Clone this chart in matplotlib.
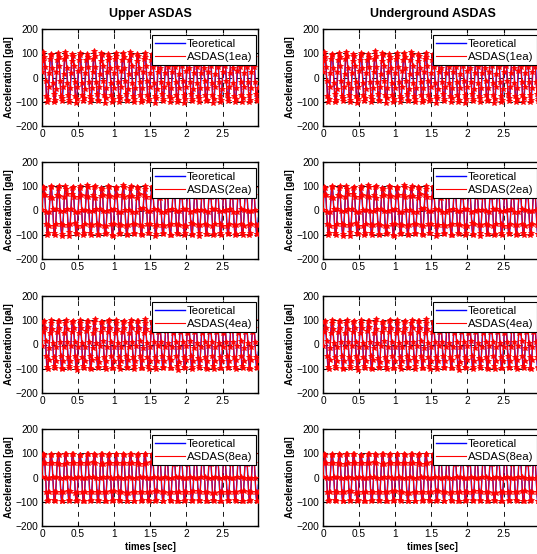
import numpy as np
import matplotlib
matplotlib.use("Agg")
import matplotlib.pyplot as plt

plt.rcParams['font.family'] = ['Liberation Sans', 'DejaVu Sans']

# theoretical input motion [gal], one value every 0.005 s
dt_theory = 0.005
theory = [
    0, 31, 59, 81, 95, 100, 95, 81, 59, 31, 0, -31, -59, -81, -95, -100, -95, -81, -59, -31,
    0, 31, 59, 81, 95, 100, 95, 81, 59, 31, 0, -31, -59, -81, -95, -100, -95, -81, -59, -31,
    0, 31, 59, 81, 95, 100, 95, 81, 59, 31, 0, -31, -59, -81, -95, -100, -95, -81, -59, -31,
    0, 31, 59, 81, 95, 100, 95, 81, 59, 31, 0, -31, -59, -81, -95, -100, -95, -81, -59, -31,
    0, 31, 59, 81, 95, 100, 95, 81, 59, 31, 0, -31, -59, -81, -95, -100, -95, -81, -59, -31,
    0, 31, 59, 81, 95, 100, 95, 81, 59, 31, 0, -31, -59, -81, -95, -100, -95, -81, -59, -31,
    0, 31, 59, 81, 95, 100, 95, 81, 59, 31, 0, -31, -59, -81, -95, -100, -95, -81, -59, -31,
    0, 31, 59, 81, 95, 100, 95, 81, 59, 31, 0, -31, -59, -81, -95, -100, -95, -81, -59, -31,
    0, 31, 59, 81, 95, 100, 95, 81, 59, 31, 0, -31, -59, -81, -95, -100, -95, -81, -59, -31,
    0, 31, 59, 81, 95, 100, 95, 81, 59, 31, 0, -31, -59, -81, -95, -100, -95, -81, -59, -31,
    0, 31, 59, 81, 95, 100, 95, 81, 59, 31, 0, -31, -59, -81, -95, -100, -95, -81, -59, -31,
    0, 31, 59, 81, 95, 100, 95, 81, 59, 31, 0, -31, -59, -81, -95, -100, -95, -81, -59, -31,
    0, 31, 59, 81, 95, 100, 95, 81, 59, 31, 0, -31, -59, -81, -95, -100, -95, -81, -59, -31,
    0, 31, 59, 81, 95, 100, 95, 81, 59, 31, 0, -31, -59, -81, -95, -100, -95, -81, -59, -31,
    0, 31, 59, 81, 95, 100, 95, 81, 59, 31, 0, -31, -59, -81, -95, -100, -95, -81, -59, -31,
    0, 31, 59, 81, 95, 100, 95, 81, 59, 31, 0, -31, -59, -81, -95, -100, -95, -81, -59, -31,
    0, 31, 59, 81, 95, 100, 95, 81, 59, 31, 0, -31, -59, -81, -95, -100, -95, -81, -59, -31,
    0, 31, 59, 81, 95, 100, 95, 81, 59, 31, 0, -31, -59, -81, -95, -100, -95, -81, -59, -31,
    0, 31, 59, 81, 95, 100, 95, 81, 59, 31, 0, -31, -59, -81, -95, -100, -95, -81, -59, -31,
    0, 31, 59, 81, 95, 100, 95, 81, 59, 31, 0, -31, -59, -81, -95, -100, -95, -81, -59, -31,
    0, 31, 59, 81, 95, 100, 95, 81, 59, 31, 0, -31, -59, -81, -95, -100, -95, -81, -59, -31,
    0, 31, 59, 81, 95, 100, 95, 81, 59, 31, 0, -31, -59, -81, -95, -100, -95, -81, -59, -31,
    0, 31, 59, 81, 95, 100, 95, 81, 59, 31, 0, -31, -59, -81, -95, -100, -95, -81, -59, -31,
    0, 31, 59, 81, 95, 100, 95, 81, 59, 31, 0, -31, -59, -81, -95, -100, -95, -81, -59, -31,
    0, 31, 59, 81, 95, 100, 95, 81, 59, 31, 0, -31, -59, -81, -95, -100, -95, -81, -59, -31,
    0, 31, 59, 81, 95, 100, 95, 81, 59, 31, 0, -31, -59, -81, -95, -100, -95, -81, -59, -31,
    0, 31, 59, 81, 95, 100, 95, 81, 59, 31, 0, -31, -59, -81, -95, -100, -95, -81, -59, -31,
    0, 31, 59, 81, 95, 100, 95, 81, 59, 31, 0, -31, -59, -81, -95, -100, -95, -81, -59, -31,
    0, 31, 59, 81, 95, 100, 95, 81, 59, 31, 0, -31, -59, -81, -95, -100, -95, -81, -59, -31,
    0, 31, 59, 81, 95, 100, 95, 81, 59, 31, 0, -31, -59, -81, -95, -100, -95, -81, -59, -31,
]

# measured by ASDAS [gal], one sample every 0.01 s
dt_asdas = 0.01
asdas_1ea = [
    22, 70, 104, 86, 45, -16, -76, -101, -87, -40,
    17, 75, 97, 92, 40, -22, -70, -103, -91, -46,
    24, 71, 101, 85, 47, -15, -77, -96, -86, -39,
    15, 77, 106, 90, 41, -21, -72, -100, -93, -44,
    20, 69, 98, 87, 46, -18, -75, -104, -88, -41,
    26, 74, 102, 91, 38, -24, -71, -98, -85, -47,
    18, 72, 96, 84, 44, -17, -78, -102, -90, -42,
    21, 76, 108, 88, 42, -20, -69, -97, -92, -38,
    16, 70, 100, 93, 48, -14, -74, -105, -86, -45,
    23, 73, 97, 86, 39, -23, -72, -99, -89, -43,
    19, 78, 103, 90, 45, -19, -76, -101, -84, -40,
    25, 71, 99, 85, 41, -16, -70, -96, -91, -48,
    14, 74, 105, 92, 47, -22, -77, -103, -87, -42,
    20, 69, 98, 88, 40, -18, -73, -100, -93, -44,
    22, 75, 101, 84, 46, -15, -71, -98, -88, -39,
    17, 72, 96, 91, 43, -21, -75, -107, -85, -46,
    24, 77, 104, 87, 38, -17, -69, -97, -90, -41,
    18, 70, 100, 89, 44, -24, -78, -102, -86, -45,
    21, 73, 97, 93, 42, -20, -72, -99, -92, -43,
    15, 76, 109, 86, 47, -14, -74, -104, -89, -38,
    26, 71, 99, 90, 41, -19, -70, -96, -87, -47,
    19, 74, 102, 85, 45, -23, -76, -101, -84, -42,
    20, 69, 98, 92, 39, -16, -73, -98, -91, -44,
    23, 78, 103, 88, 46, -21, -71, -105, -88, -40,
    16, 72, 96, 84, 43, -18, -77, -100, -93, -46,
    22, 75, 106, 91, 48, -15, -69, -97, -86, -41,
    18, 70, 100, 87, 40, -22, -75, -103, -90, -45,
    25, 73, 97, 89, 44, -17, -72, -99, -85, -39,
    17, 77, 101, 93, 42, -20, -74, -102, -92, -43,
    21, 71, 99, 86, 45, -19, -70, -98, -89, -44,
]
asdas_2ea = [
    4, 62, 98, 91, 64, -5, -55, -101, -93, -62,
    -6, 55, 103, 96, 53, 7, -64, -92, -99, -54,
    8, 63, 92, 100, 61, -3, -57, -97, -104, -60,
    -2, 57, 99, 89, 66, 5, -61, -106, -90, -57,
    5, 66, 94, 97, 55, -8, -53, -94, -97, -65,
    -7, 54, 101, 93, 62, 2, -63, -99, -92, -55,
    3, 60, 107, 95, 57, -4, -58, -93, -101, -61,
    -4, 64, 96, 102, 52, 6, -56, -103, -96, -58,
    7, 58, 93, 90, 63, -2, -62, -96, -94, -63,
    -3, 61, 100, 98, 58, 4, -54, -100, -105, -56,
    6, 56, 97, 92, 65, -6, -60, -95, -91, -59,
    -5, 65, 104, 96, 54, 3, -65, -102, -98, -61,
    2, 59, 91, 99, 60, -7, -57, -94, -95, -54,
    -8, 53, 98, 94, 67, 8, -59, -98, -100, -64,
    9, 62, 102, 88, 56, -1, -55, -92, -93, -57,
    -1, 57, 95, 101, 61, 5, -63, -107, -97, -60,
    4, 64, 99, 93, 53, -5, -58, -96, -92, -62,
    -6, 55, 94, 97, 64, 2, -61, -99, -103, -55,
    5, 60, 106, 91, 59, -3, -56, -93, -96, -58,
    -2, 63, 97, 100, 55, 7, -64, -101, -94, -63,
    7, 58, 92, 95, 62, -6, -53, -97, -99, -56,
    -4, 61, 101, 89, 57, 4, -60, -104, -91, -61,
    3, 56, 96, 98, 66, -2, -57, -95, -98, -59,
    -7, 66, 103, 94, 54, 6, -62, -100, -95, -54,
    6, 59, 93, 96, 60, -4, -55, -94, -102, -64,
    -3, 54, 99, 92, 63, 3, -63, -98, -93, -57,
    8, 62, 105, 99, 56, -8, -59, -103, -97, -60,
    -5, 57, 95, 90, 61, 5, -54, -92, -100, -62,
    2, 64, 98, 97, 58, -1, -61, -99, -94, -55,
    -1, 60, 94, 93, 62, 1, -58, -96, -96, -58,
]
asdas_4ea = [
    -7, 53, 94, 96, 70, 13, -47, -94, -101, -64,
    -13, 47, 88, 101, 64, 7, -53, -89, -95, -70,
    -9, 52, 96, 97, 69, 11, -49, -96, -100, -66,
    -12, 48, 90, 103, 65, 9, -52, -90, -97, -68,
    -8, 51, 93, 95, 68, 12, -48, -93, -104, -65,
    -11, 49, 89, 100, 66, 8, -51, -88, -96, -69,
    -10, 54, 97, 98, 71, 10, -46, -95, -99, -63,
    -14, 46, 91, 105, 63, 6, -54, -92, -98, -71,
    -6, 50, 92, 94, 67, 14, -50, -91, -102, -67,
    -10, 52, 95, 99, 69, 10, -49, -97, -95, -66,
    -12, 47, 87, 102, 65, 8, -53, -89, -100, -68,
    -9, 53, 94, 96, 70, 11, -47, -93, -97, -64,
    -11, 49, 90, 101, 66, 9, -51, -90, -103, -70,
    -7, 51, 96, 97, 68, 13, -48, -95, -96, -65,
    -13, 48, 89, 104, 64, 7, -52, -88, -99, -69,
    -10, 52, 93, 95, 69, 10, -50, -94, -101, -66,
    -8, 50, 91, 100, 67, 12, -49, -91, -97, -67,
    -12, 54, 97, 98, 71, 8, -53, -96, -98, -63,
    -9, 46, 88, 103, 63, 11, -47, -89, -104, -71,
    -11, 51, 94, 96, 68, 9, -51, -93, -95, -65,
    -6, 49, 92, 99, 66, 14, -48, -92, -100, -68,
    -14, 53, 90, 102, 70, 6, -54, -90, -96, -64,
    -10, 48, 95, 97, 65, 10, -50, -97, -99, -70,
    -8, 52, 89, 105, 69, 12, -46, -88, -102, -66,
    -12, 50, 96, 94, 67, 8, -52, -95, -97, -67,
    -9, 47, 91, 100, 64, 11, -49, -91, -98, -69,
    -11, 54, 93, 98, 71, 9, -53, -94, -101, -63,
    -7, 49, 88, 101, 66, 13, -47, -89, -96, -68,
    -13, 51, 97, 96, 68, 7, -51, -96, -100, -65,
    -10, 50, 92, 99, 67, 10, -50, -92, -98, -67,
]
asdas_8ea = [
    1, 60, 97, 94, 58, -2, -61, -96, -93, -60,
    -2, 58, 94, 96, 60, 1, -58, -94, -97, -58,
    2, 61, 96, 93, 57, -1, -60, -97, -95, -61,
    -1, 57, 95, 97, 61, 2, -57, -93, -96, -57,
    0, 60, 98, 95, 59, -3, -62, -95, -94, -60,
    3, 59, 93, 94, 58, 0, -59, -98, -97, -59,
    -3, 58, 96, 98, 60, 2, -58, -96, -93, -58,
    1, 62, 95, 93, 59, -2, -61, -94, -95, -61,
    -1, 57, 97, 96, 57, 1, -60, -97, -98, -60,
    2, 60, 94, 95, 61, -1, -57, -95, -94, -57,
    0, 59, 96, 97, 58, 3, -59, -93, -96, -59,
    -2, 61, 98, 94, 60, -2, -62, -96, -95, -62,
    1, 58, 95, 96, 59, 0, -58, -98, -97, -58,
    -1, 60, 93, 98, 57, 2, -60, -95, -93, -60,
    3, 57, 97, 95, 61, -1, -61, -94, -96, -61,
    0, 62, 96, 93, 58, 1, -57, -97, -94, -57,
    -3, 59, 94, 97, 60, -3, -59, -96, -98, -59,
    2, 58, 95, 94, 59, 0, -62, -93, -95, -60,
    -1, 61, 98, 96, 57, 2, -58, -95, -97, -58,
    1, 60, 96, 95, 61, -2, -60, -98, -94, -61,
    0, 57, 93, 98, 58, 1, -61, -94, -96, -57,
    -2, 59, 97, 93, 60, -1, -57, -97, -93, -60,
    2, 62, 95, 97, 59, 3, -59, -96, -98, -59,
    -1, 58, 94, 94, 57, 0, -62, -93, -95, -62,
    1, 60, 98, 96, 61, -2, -58, -95, -97, -58,
    0, 61, 96, 95, 58, 2, -60, -98, -94, -60,
    -3, 57, 93, 97, 60, -1, -61, -94, -96, -61,
    3, 59, 97, 93, 59, 1, -57, -97, -95, -57,
    -1, 60, 95, 98, 57, -3, -59, -96, -93, -59,
    0, 58, 94, 95, 60, 0, -60, -95, -97, -60,
]

sensor_labels = ['1ea', '2ea', '4ea', '8ea']
asdas_rows = [asdas_1ea, asdas_2ea, asdas_4ea, asdas_8ea]
col_titles = ['Upper ASDAS', 'Underground ASDAS']
xticks = [0, 0.5, 1, 1.5, 2, 2.5]
xtick_labels = ['0', '0.5', '1', '1.5', '2', '2.5']
yticks = [-200, -100, 0, 100, 200]

t_theory = np.arange(len(theory)) * dt_theory
t_asdas = np.arange(len(asdas_1ea)) * dt_asdas

W, H = 537, 554
fig = plt.figure(figsize=(W / 100, H / 100), dpi=100)

# axes placement in pixels (right column runs off the figure edge)
col_left = [42, 323]
row_top = [29, 162, 296, 429]
ax_w, ax_h = 216, 97
ax_w_col = [216, 219]
ylab_x = [-0.13, -0.128]

for r, (lab, vals) in enumerate(zip(sensor_labels, asdas_rows)):
    for c in range(2):
        ax = fig.add_axes([col_left[c] / W, 1 - (row_top[r] + ax_h) / H,
                           ax_w_col[c] / W, ax_h / H])
        ax.plot(t_theory, theory, color='b', lw=1.0, label='Teoretical', zorder=2)
        ax.plot(t_asdas, vals, color='r', lw=0.8, label='ASDAS(' + lab + ')', zorder=3)
        ax.plot(t_asdas, vals, ls='none', marker='*', ms=3.8, mfc='r', mec='r',
                mew=0.6, zorder=3)

        # keep same time scale in both columns
        ax.set_xlim(0, 2.99 * ax_w_col[c] / ax_w)
        ax.set_ylim(-200, 200)
        ax.set_xticks(xticks)
        ax.set_xticklabels(xtick_labels)
        ax.set_yticks(yticks)
        ax.grid(True, color='0.1', ls=(0, (5, 5)), lw=0.7)
        ax.set_axisbelow(True)
        ax.tick_params(direction='in', length=3, width=0.8, top=True, right=True,
                       labelsize=7.3, pad=2.5)
        for s in ax.spines.values():
            s.set_linewidth(1.0)

        ax.set_ylabel('Acceleration [gal]', fontsize=7, fontweight='bold')
        ax.yaxis.set_label_coords(ylab_x[c] * ax_w / ax_w_col[c], 0.5)
        if r == 0:
            ax.set_title(col_titles[c], fontsize=9, fontweight='bold', pad=9)
        if r == 3:
            ax.set_xlabel('times [sec]', fontsize=7, fontweight='bold', labelpad=1.5)

        leg = ax.legend(loc='upper right',
                        bbox_to_anchor=(1 - (ax_w_col[c] - ax_w + 2) / ax_w_col[c], 1 - 6 / ax_h),
                        borderaxespad=0, fontsize=8.2, fancybox=False, edgecolor='k',
                        framealpha=1, handlelength=2.6, handletextpad=0.15,
                        labelspacing=0.25, borderpad=0.33)
        leg.get_frame().set_linewidth(0.8)

fig.savefig('out.png', dpi=100)
